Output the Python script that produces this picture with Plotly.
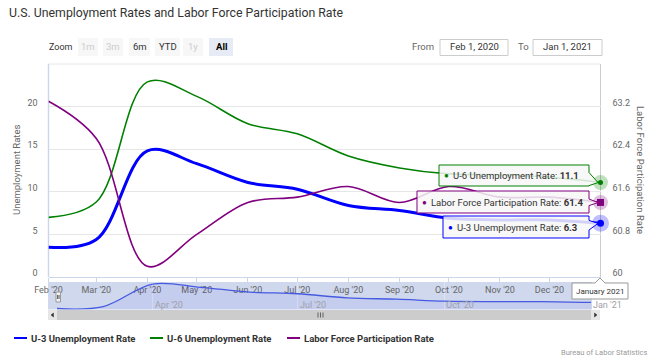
import plotly.graph_objects as go

# ---------------- data ----------------
months = ['2020-02-01', '2020-03-01', '2020-04-01', '2020-05-01', '2020-06-01', '2020-07-01',
          '2020-08-01', '2020-09-01', '2020-10-01', '2020-11-01', '2020-12-01', '2021-01-01']
month_labels = ["Feb '20", "Mar '20", "Apr '20", "May '20", "Jun '20", "Jul '20",
                "Aug '20", "Sep '20", "Oct '20", "Nov '20", "Dec '20", ""]
u3 = [3.5, 4.4, 14.8, 13.3, 11.1, 10.3, 8.4, 7.8, 6.9, 6.7, 6.7, 6.3]
u6 = [7.0, 8.8, 22.9, 21.2, 18.0, 16.8, 14.2, 12.8, 12.1, 12.0, 11.7, 11.1]
lfpr = [63.3, 62.6, 60.2, 60.8, 61.4, 61.5, 61.7, 61.4, 61.7, 61.5, 61.5, 61.4]
left_ticks = [0, 5, 10, 15, 20]
right_ticks = [60, 60.8, 61.6, 62.4, 63.2]
nav_ticks = ['2020-04-01', '2020-07-01', '2020-10-01', '2021-01-01']
nav_tick_labels = ["Apr '20", "Jul '20", "Oct '20", "Jan '21"]
series_names = ['U-3 Unemployment Rate', 'U-6 Unemployment Rate', 'Labor Force Participation Rate']
series_colors = ['#0000ff', '#008000', '#800080']

W, H = 657, 360
FONT = 'Roboto, Open Sans, sans-serif'


def px(x):
    return x / W


def py(y):
    return 1 - y / H


fig = go.Figure()

# main series
fig.add_trace(go.Scatter(x=months, y=u3, mode='lines', line=dict(color=series_colors[0], width=3, shape='spline'),
                         name=series_names[0], xaxis='x', yaxis='y'))
fig.add_trace(go.Scatter(x=months, y=u6, mode='lines', line=dict(color=series_colors[1], width=1.6, shape='spline'),
                         name=series_names[1], xaxis='x', yaxis='y'))
fig.add_trace(go.Scatter(x=months, y=lfpr, mode='lines', line=dict(color=series_colors[2], width=1.6, shape='spline'),
                         name=series_names[2], xaxis='x', yaxis='y2'))

# hover halos / markers at last point
fig.add_trace(go.Scatter(x=[months[-1]], y=[u3[-1]], mode='markers', marker=dict(color='rgba(0,0,255,0.25)', size=17),
                         xaxis='x', yaxis='y', cliponaxis=False))
fig.add_trace(go.Scatter(x=[months[-1]], y=[u3[-1]], mode='markers', marker=dict(color='#0000ff', size=7),
                         xaxis='x', yaxis='y', cliponaxis=False))
fig.add_trace(go.Scatter(x=[months[-1]], y=[u6[-1]], mode='markers', marker=dict(color='rgba(0,128,0,0.25)', size=15),
                         xaxis='x', yaxis='y', cliponaxis=False))
fig.add_trace(go.Scatter(x=[months[-1]], y=[u6[-1]], mode='markers', marker=dict(color='#008000', size=5),
                         xaxis='x', yaxis='y', cliponaxis=False))
fig.add_trace(go.Scatter(x=[months[-1]], y=[lfpr[-1]], mode='markers', marker=dict(color='rgba(128,0,128,0.25)', size=15),
                         xaxis='x', yaxis='y2', cliponaxis=False))
fig.add_trace(go.Scatter(x=[months[-1]], y=[lfpr[-1]], mode='markers', marker=dict(color='#800080', size=7, symbol='square'),
                         xaxis='x', yaxis='y2', cliponaxis=False))

# navigator series
fig.add_trace(go.Scatter(x=months, y=u3, mode='lines', line=dict(color='rgb(70,90,225)', width=1.3, shape='spline'),
                         fill='tozeroy', fillcolor='rgba(0,0,255,0.05)', xaxis='x3', yaxis='y3'))

shapes = []
annotations = []


def rect(x0, y0, x1, y1, fill, line_color=None, lw=1, layer='above'):
    shapes.append(dict(type='rect', xref='paper', yref='paper', x0=px(x0), x1=px(x1), y0=py(y1), y1=py(y0),
                       fillcolor=fill, line=dict(color=line_color or 'rgba(0,0,0,0)', width=lw if line_color else 0),
                       layer=layer))


def line(x0, y0, x1, y1, color, width=1, layer='above'):
    shapes.append(dict(type='line', xref='paper', yref='paper', x0=px(x0), x1=px(x1), y0=py(y0), y1=py(y1),
                       line=dict(color=color, width=width), layer=layer))


def path(points, fill, color, width=1, closed=True, layer='above'):
    d = 'M ' + ' L '.join(f'{px(x):.5f},{py(y):.5f}' for x, y in points)
    if closed:
        d += ' Z'
    shapes.append(dict(type='path', xref='paper', yref='paper', path=d, fillcolor=fill,
                       line=dict(color=color, width=width), layer=layer))


def text(x, y, s, size=10, color='#333333', xanchor='left', bold=False, angle=0, yanchor='middle'):
    if bold:
        s = f'<b>{s}</b>'
    annotations.append(dict(xref='paper', yref='paper', x=px(x), y=py(y), text=s, showarrow=False,
                            xanchor=xanchor, yanchor=yanchor, textangle=angle, borderpad=0,
                            font=dict(family=FONT, size=size, color=color)))


# plot frame lines
line(48.5, 64, 600.5, 64, '#e6e6e6', layer='below')
line(48.5, 64, 48.5, 277, '#ccd6eb', 1.5, layer='below')
line(600.5, 64, 600.5, 277, '#cccccc', 1, layer='below')

# navigator
rect(48, 282, 592, 309.5, 'rgb(207,216,237)', layer='below')
rect(56, 292, 60.5, 302, '#f2f2f2', '#999999', 1)
line(57.6, 295, 57.6, 299, '#333333', 0.8)
line(59, 295, 59, 299, '#333333', 0.8)
# scrollbar
rect(48, 310, 600, 320, '#cccccc', layer='below')
rect(48, 310, 57, 320, '#e6e6e6', layer='below')
rect(591, 310, 600, 320, '#e6e6e6', layer='below')
path([(53.5, 313), (53.5, 317), (51, 315)], '#333333', '#333333', 0.5)
path([(594.5, 313), (594.5, 317), (597, 315)], '#333333', '#333333', 0.5)
for gx in (318, 320.5, 323):
    line(gx, 312.5, gx, 317.5, '#333333', 0.7)
for i, lab in enumerate(nav_tick_labels):
    annotations.append(dict(xref='x3', yref='paper', x=nav_ticks[i], y=py(305), text=lab, showarrow=False,
                            xanchor='left', yanchor='middle', xshift=1, borderpad=0,
                            font=dict(family=FONT, size=9, color='#a0a0a8')))

# title
text(8, 13, 'U.S. Unemployment Rates and Labor Force Participation Rate', size=12.3, color='#333333')

# range selector
text(48, 47, 'Zoom', size=9, color='#333333')
buttons = [('1m', 78, 98, False, False), ('3m', 103, 123, False, False), ('6m', 129, 150, True, False),
           ('YTD', 155, 180, True, False), ('1y', 183, 203, False, False), ('All', 209, 233, True, True)]
for lab, x0, x1, enabled, sel in buttons:
    rect(x0, 38, x1, 56, '#e6ebf5' if sel else '#f7f7f7')
    text((x0 + x1) / 2, 47, lab, size=9.5, color=('#000000' if sel else '#333333') if enabled else '#cccccc',
         xanchor='center', bold=sel)

text(435, 47, 'From', size=9.5, color='#666666', xanchor='right')
rect(440, 39.5, 508, 55.5, '#ffffff', '#cccccc', 1)
text(474, 47, 'Feb 1, 2020', size=9.5, color='#333333', xanchor='center')
text(530, 47, 'To', size=9.5, color='#666666', xanchor='right')
rect(533, 39.5, 602, 55.5, '#ffffff', '#cccccc', 1)
text(567.5, 47, 'Jan 1, 2021', size=9.5, color='#333333', xanchor='center')

# axis titles
text(16, 170, 'Unemployment Rates', size=9.5, color='#666666', xanchor='center', angle=-90)
text(641, 170, 'Labor Force Participation Rate', size=9.5, color='#666666', xanchor='center', angle=90)

# tooltips (split)
tips = [
    (1, f'{series_names[1]}: <b>{u6[-1]}</b>', 439, 165, 186, 182.6),
    (2, f'{series_names[2]}: <b>{lfpr[-1]}</b>', 417, 191, 213, 202.6),
    (0, f'{series_names[0]}: <b>{u3[-1]}</b>', 443, 216, 238, 223.4),
]
for idx, label, x0, y0, y1, ay in tips:
    col = series_colors[idx]
    x1 = 589
    cy = (y0 + y1) / 2
    path([(x0, y0), (x1, y0), (x1, min(cy, ay) - 3), (598, ay), (x1, max(cy, ay) + 3), (x1, y1), (x0, y1)],
         'rgba(247,247,247,0.85)', col, 1)
    text(x0 + 4, cy, f'<span style="color:{col}">●</span>', size=8, color=col)
    text(x0 + 13, cy, label, size=9.5, color='#333333')

# x tooltip "January 2021"
path([(572, 283), (595, 283), (600, 278), (605, 283), (628, 283), (628, 299), (572, 299)], '#ffffff', '#999999', 1)
text(600, 291, 'January 2021', size=8, color='#333333', xanchor='center')

# legend
lx = [(14, 27, 30), (150, 163, 166), (287, 300, 303)]
for i, (a, b, t) in enumerate(lx):
    line(a, 338, b, 338, series_colors[i], 2)
    text(t, 338, series_names[i], size=9.5, color='#333333', bold=True)

# credits
text(648, 352, 'Bureau of Labor Statistics', size=7.5, color='#999999', xanchor='right')

fig.update_layout(
    template='none',
    width=W, height=H, margin=dict(l=0, r=0, t=0, b=0, pad=0), autosize=False,
    paper_bgcolor='#ffffff', plot_bgcolor='rgba(0,0,0,0)', showlegend=False,
    font=dict(family=FONT, size=10, color='#666666'),
    xaxis=dict(domain=[px(48.5), px(600.5)], type='date', range=[months[0], months[-1]],
               tickvals=months, ticktext=month_labels, showgrid=False, zeroline=False,
               showline=True, linecolor='#ccd6eb', ticks='outside', ticklen=4, tickcolor='#ccd6eb',
               tickfont=dict(family=FONT, size=9, color='#666666'), anchor='y', automargin=False),
    yaxis=dict(domain=[py(277), py(64)], range=[0, 25], tickvals=left_ticks, showgrid=True,
               gridcolor='#e6e6e6', zeroline=False, showline=False, ticks='', ticklabelstandoff=10,
               ticklabelshift=-4,
               tickfont=dict(family=FONT, size=9, color='#666666'), anchor='x', automargin=False),
    yaxis2=dict(overlaying='y', side='right', range=[60, 64], tickvals=right_ticks,
                ticktext=[str(v) for v in right_ticks], showgrid=False, zeroline=False, showline=False,
                ticks='', ticklabelstandoff=11, ticklabelshift=-4,
                tickfont=dict(family=FONT, size=9, color='#666666'), anchor='x', automargin=False),
    xaxis3=dict(domain=[px(57), px(591)], type='date', range=[months[0], months[-1]], showgrid=True,
                gridcolor='rgba(255,255,255,0.35)', tickvals=nav_ticks, showticklabels=False, zeroline=False,
                showline=False, ticks='', anchor='y3', automargin=False),
    yaxis3=dict(domain=[py(309.5), py(282)], range=[3.03, 15.74], visible=False, anchor='x3',
                automargin=False),
    shapes=shapes, annotations=annotations,
    hovermode=False,
)

fig.write_html('out.html', post_script="document.body.style.margin='0';",
               config={'displayModeBar': False})
